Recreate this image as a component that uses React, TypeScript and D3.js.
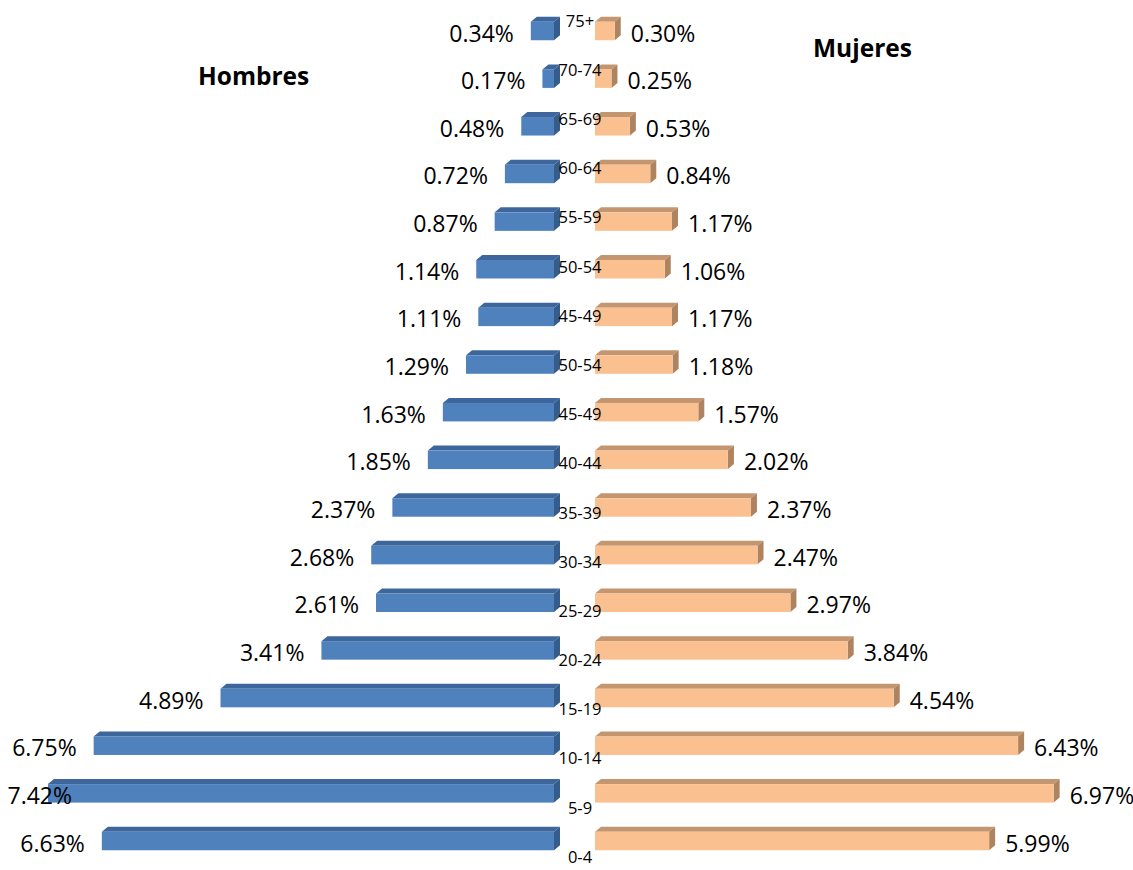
import React from "react";
import * as d3 from "d3";

const categories = ["75+","70-74","65-69","60-64","55-59","50-54","45-49","50-54","45-49","40-44","35-39","30-34","25-29","20-24","15-19","10-14","5-9","0-4"];
const hombres = [0.34,0.17,0.48,0.72,0.87,1.14,1.11,1.29,1.63,1.85,2.37,2.68,2.61,3.41,4.89,6.75,7.42,6.63];
const mujeres = [0.30,0.25,0.53,0.84,1.17,1.06,1.17,1.18,1.57,2.02,2.37,2.47,2.97,3.84,4.54,6.43,6.97,5.99];
const titles = { left: "Hombres", right: "Mujeres" };

const W = 1133, H = 870;
const FONT = "'Open Sans', 'Noto Sans', sans-serif";

const blue = { front: "#4F81BD", top: "#3D679C", side: "#365C8B" };
const peach = { front: "#FAC090", top: "#C4966F", side: "#AE835F" };

export default function App() {
  const idx = categories.map((_, i) => i);
  const y = d3.scalePoint<number>().domain(idx).range([31, 841]);
  const yLabel = d3.scalePoint<number>().domain(idx).range([21, 857]);
  const xMen = d3.scaleLinear().domain([0, 1]).range([554, 554 - 68.2]);
  const xWomen = d3.scaleLinear().domain([0, 1]).range([595, 595 + 65.8]);
  const bh = 18.5, dx = 6, dy = 5;

  const box = (x0: number, x1: number, cy: number, c: typeof blue, key: string) => {
    const t = cy - bh / 2, b = cy + bh / 2;
    const topPts = `${x0},${t} ${x0 + dx},${t - dy} ${x1 + dx},${t - dy} ${x1},${t}`;
    const sidePts = `${x1},${t} ${x1 + dx},${t - dy} ${x1 + dx},${b - dy} ${x1},${b}`;
    return (
      <g key={key}>
        <polygon points={topPts} fill={c.top} />
        <polygon points={sidePts} fill={c.side} />
        <rect x={x0} y={t} width={x1 - x0} height={bh} fill={c.front} />
      </g>
    );
  };

  return (
    <svg width={W} height={H} style={{ position: "absolute", left: 0, top: 0, background: "#fff" }}>
      {idx.map((i) => box(xMen(hombres[i]), xMen(0), y(i)!, blue, "m" + i))}
      {idx.map((i) => box(xWomen(0), xWomen(mujeres[i]), y(i)!, peach, "w" + i))}
      {idx.map((i) => (
        <text key={"vm" + i} x={Math.max(xMen(hombres[i]) - 17, 72)} y={y(i)! + 2.5} dy="0.35em"
          textAnchor="end" fontFamily={FONT} fontSize={23} fill="#000">
          {hombres[i].toFixed(2)}%
        </text>
      ))}
      {idx.map((i) => (
        <text key={"vw" + i} x={xWomen(mujeres[i]) + 16} y={y(i)! + 2.5} dy="0.35em"
          textAnchor="start" fontFamily={FONT} fontSize={23} fill="#000">
          {mujeres[i].toFixed(2)}%
        </text>
      ))}
      {idx.map((i) => (
        <text key={"c" + i} x={580} y={yLabel(i)!} dy="0.35em" textAnchor="middle"
          fontFamily={FONT} fontSize={16.5} fill="#000">
          {categories[i]}
        </text>
      ))}
      <text x={198} y={85} fontFamily={FONT} fontWeight="bold" fontSize={24.5} fill="#000">{titles.left}</text>
      <text x={813} y={57} fontFamily={FONT} fontWeight="bold" fontSize={24.5} fill="#000">{titles.right}</text>
    </svg>
  );
}
